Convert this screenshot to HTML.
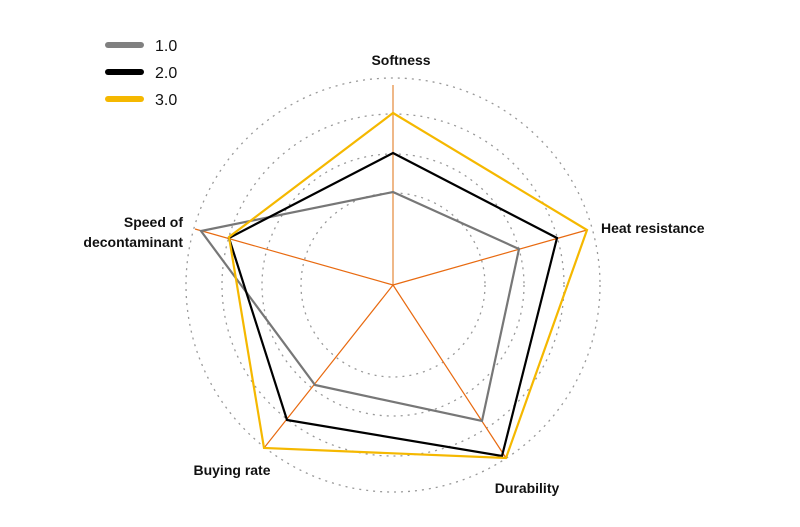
<!DOCTYPE html>
<html><head><style>body{margin:0;background:#fff}</style></head><body>
<svg width="800" height="522" xmlns="http://www.w3.org/2000/svg" font-family="Liberation Sans, sans-serif">
<rect width="800" height="522" fill="#fff"/>
<g fill="none" stroke="#999" stroke-width="1.3" stroke-dasharray="2,5">
<circle cx="393" cy="285" r="92"/><circle cx="393" cy="285" r="131"/><circle cx="393" cy="285" r="171"/><circle cx="393" cy="285" r="207"/>
</g>
<g stroke="#e86a10" stroke-width="1.2">
<line x1="393" y1="285" x2="393" y2="85" stroke="#eaa060" stroke-width="1.5"/>
<line x1="393" y1="285" x2="587" y2="230"/>
<line x1="393" y1="285" x2="506" y2="458"/>
<line x1="393" y1="285" x2="264" y2="448"/>
<line x1="393" y1="285" x2="195" y2="229"/>
</g>
<polygon points="393,192 519,249 482,421 315,385 201,231" fill="none" stroke="#777" stroke-width="2.2"/>
<polygon points="393,153 557,238 502,456 287,420 229,238" fill="none" stroke="#000" stroke-width="2.2"/>
<polygon points="393,113 587,230 506,458 264,448 229,237" fill="none" stroke="#f5b800" stroke-width="2.2"/>
<g font-size="14" font-weight="bold" fill="#111">
<text x="401" y="65" text-anchor="middle">Softness</text>
<text x="601" y="233">Heat resistance</text>
<text x="527" y="493" text-anchor="middle">Durability</text>
<text x="232" y="475" text-anchor="middle">Buying rate</text>
<text x="183" y="227" text-anchor="end">Speed of</text>
<text x="183" y="247" text-anchor="end">decontaminant</text>
</g>
<g stroke-width="6" stroke-linecap="round">
<line x1="108" y1="45" x2="141" y2="45" stroke="#808080"/>
<line x1="108" y1="72" x2="141" y2="72" stroke="#000"/>
<line x1="108" y1="99" x2="141" y2="99" stroke="#f5b800"/>
</g>
<g font-size="16" fill="#111">
<text x="155" y="51">1.0</text><text x="155" y="78">2.0</text><text x="155" y="105">3.0</text>
</g>
</svg>
</body></html>
